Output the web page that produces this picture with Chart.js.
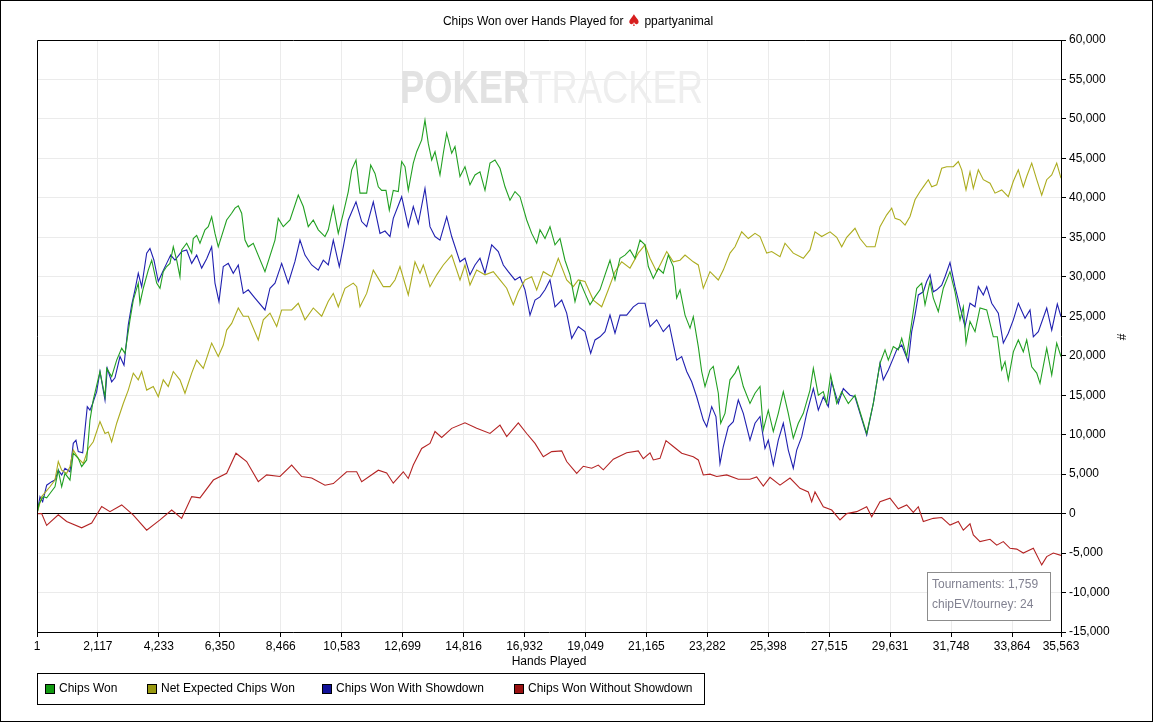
<!DOCTYPE html>
<html>
<head>
<meta charset="utf-8">
<script src="https://cdn.jsdelivr.net/npm/chart.js@4.4.1/dist/chart.umd.min.js"></script>
<style>
  html, body { margin: 0; padding: 0; background: #fff; }
  canvas { display: block; }
</style>
</head>
<body>
<canvas id="grafico" width="1155" height="723"></canvas>
<script>
// tick labels of the axes
const xTicks = [1, 2117, 4233, 6350, 8466, 10583, 12699, 14816, 16932, 19049, 21165, 23282, 25398, 27515, 29631, 31748, 33864, 35563];
const yTicks = [-15000, -10000, -5000, 0, 5000, 10000, 15000, 20000, 25000, 30000, 35000, 40000, 45000, 50000, 55000, 60000];

// Chips Won (green)
const manosGanadas = [1, 80, 219, 337, 451, 625, 740, 858, 972, 1146, 1261, 1434, 1552, 1726, 1841, 1955, 2188, 2362, 2421, 2594, 2768, 2942, 3056, 3230, 3345, 3518, 3577, 3692, 3865, 3984, 4157, 4272, 4386, 4504, 4619, 4734, 4852, 4966, 5025, 5199, 5373, 5428, 5546, 5661, 5835, 5949, 6067, 6182, 6296, 6588, 6762, 6877, 6991, 7109, 7224, 7338, 7512, 7918, 8266, 8380, 8554, 8787, 9075, 9249, 9422, 9596, 9770, 10002, 10117, 10291, 10464, 10638, 10812, 10930, 11079, 11218, 11450, 11590, 11739, 11854, 11971, 12121, 12236, 12374, 12548, 12666, 12781, 12895, 13069, 13187, 13361, 13475, 13590, 13708, 13823, 13996, 14111, 14229, 14403, 14517, 14691, 14864, 15038, 15212, 15385, 15559, 15733, 15906, 16080, 16254, 16427, 16601, 16775, 17007, 17181, 17355, 17469, 17643, 17816, 17990, 18164, 18337, 18511, 18685, 18858, 19032, 19206, 19379, 19553, 19727, 19900, 20074, 20248, 20421, 20595, 20769, 20942, 21116, 21231, 21405, 21578, 21752, 21926, 22099, 22216, 22332, 22506, 22680, 22793, 22967, 23085, 23200, 23373, 23488, 23662, 23745, 23894, 24068, 24242, 24356, 24530, 24762, 24936, 25110, 25224, 25398, 25572, 25745, 25919, 26092, 26266, 26440, 26614, 26846, 26962, 27135, 27308, 27426, 27565, 27774, 27947, 28177, 28409, 28583, 28815, 29045, 29277, 29451, 29566, 29739, 29913, 30031, 30205, 30434, 30552, 30726, 30841, 31014, 31129, 31302, 31476, 31708, 31882, 32056, 32171, 32264, 32403, 32577, 32750, 32983, 33212, 33351, 33504, 33619, 33733, 33907, 34081, 34254, 34372, 34546, 34720, 34834, 35067, 35241, 35414, 35563];
const fichasGanadas = [0, 1300, 2150, 2000, 2550, 3400, 5500, 3400, 5100, 4250, 7650, 7000, 5950, 6800, 11850, 14400, 18000, 14800, 18400, 17350, 19450, 20950, 20300, 24550, 27050, 29200, 26650, 28550, 30850, 32100, 29200, 28550, 30650, 31300, 31700, 33800, 32100, 30000, 33400, 34250, 33000, 34850, 35250, 34250, 35950, 36350, 37600, 35500, 33800, 37200, 38050, 38700, 39000, 38050, 34650, 33800, 34250, 30650, 34650, 37400, 36350, 37200, 40350, 38900, 36350, 37200, 35950, 35100, 35950, 38900, 35500, 38050, 40800, 43550, 44800, 40600, 40600, 44150, 43100, 41400, 40950, 40950, 38450, 40950, 40800, 44600, 43950, 40950, 44400, 45850, 47350, 49850, 46900, 44800, 45850, 42900, 45650, 48200, 45650, 46500, 42700, 43950, 41650, 42900, 43300, 40950, 44400, 44800, 43750, 41400, 39700, 40800, 40150, 37200, 35500, 34250, 35950, 34850, 36350, 34050, 34850, 32100, 30250, 26850, 29400, 27900, 26450, 27450, 28350, 30250, 32100, 29600, 32350, 32750, 33400, 32350, 34650, 34050, 31300, 29800, 31050, 30450, 32750, 31300, 27300, 28350, 25150, 23500, 24950, 21150, 18000, 16100, 18200, 18650, 15250, 11450, 12700, 16950, 17800, 18650, 16100, 13950, 15250, 16100, 10600, 13100, 10400, 12700, 15450, 12700, 9550, 11450, 12700, 15650, 18400, 15000, 15450, 13950, 17550, 13950, 15450, 13950, 15000, 12900, 10150, 13950, 19050, 20750, 19450, 21150, 20750, 22200, 19900, 25600, 28550, 29200, 26450, 29400, 27300, 25600, 28550, 30650, 28100, 24550, 26200, 21600, 24350, 23050, 26050, 25800, 22400, 22400, 18200, 19250, 16950, 20500, 22000, 20500, 22000, 18600, 17800, 16500, 20950, 17550, 21600, 19900];

// Net Expected Chips Won (olive)
const manosEsperadas = [1, 163, 451, 625, 740, 858, 1031, 1146, 1261, 1434, 1608, 1782, 1955, 2188, 2362, 2476, 2594, 2768, 2997, 3171, 3345, 3518, 3636, 3810, 4039, 4213, 4386, 4560, 4734, 4966, 5140, 5373, 5546, 5776, 6067, 6296, 6470, 6588, 6762, 6991, 7165, 7338, 7686, 7860, 8092, 8325, 8498, 8846, 9075, 9308, 9596, 9888, 10117, 10291, 10464, 10697, 10985, 11103, 11218, 11450, 11680, 11854, 12027, 12260, 12433, 12607, 12895, 13128, 13302, 13416, 13649, 13882, 14111, 14403, 14517, 14691, 14864, 15038, 15271, 15559, 15848, 16080, 16313, 16542, 16716, 16948, 17181, 17355, 17584, 17875, 18105, 18396, 18626, 18799, 19032, 19320, 19612, 19841, 20074, 20307, 20595, 20883, 21116, 21290, 21522, 21696, 21870, 22099, 22332, 22506, 22793, 22967, 23141, 23373, 23662, 23835, 24068, 24242, 24474, 24704, 24936, 25110, 25343, 25516, 25804, 25978, 26266, 26614, 26846, 27020, 27253, 27542, 27774, 27947, 28121, 28409, 28583, 28815, 29104, 29277, 29510, 29684, 29799, 29972, 30146, 30319, 30493, 30667, 30781, 30955, 31073, 31247, 31420, 31594, 31823, 31997, 32115, 32264, 32403, 32518, 32692, 32865, 33098, 33272, 33504, 33733, 33907, 34081, 34254, 34372, 34546, 34720, 34893, 35067, 35241, 35414, 35563];
const fichasEsperadas = [0, 2150, 3400, 4250, 6600, 5500, 5100, 5950, 8050, 7000, 6350, 8250, 9100, 11650, 10150, 10350, 9100, 11450, 13950, 15650, 17800, 16950, 18000, 15650, 16100, 14800, 16950, 16100, 18000, 16950, 15250, 17800, 19450, 18400, 21600, 19900, 21350, 23250, 24100, 26050, 25000, 25000, 22000, 24550, 25400, 23700, 25800, 25800, 26650, 24550, 26050, 25000, 26900, 27900, 26200, 28550, 29200, 28750, 26200, 27900, 30850, 29800, 28750, 28750, 29600, 31300, 27700, 31900, 30450, 31500, 28750, 30250, 31500, 32750, 31500, 29600, 31500, 28950, 30850, 30250, 30650, 29600, 28550, 26450, 28100, 29600, 30000, 28350, 30650, 30000, 32350, 29600, 28750, 29600, 29400, 27050, 26200, 28350, 30650, 31900, 31100, 33000, 34050, 32350, 30650, 31900, 33200, 31900, 32100, 32750, 31900, 31500, 28550, 30650, 29600, 30850, 33000, 33800, 35700, 34850, 35500, 35100, 33000, 33200, 32550, 34250, 33000, 32350, 33400, 35700, 35100, 35700, 35000, 33800, 35000, 36150, 34850, 33800, 33800, 36350, 37850, 38700, 37400, 37200, 36550, 37650, 39750, 40800, 41400, 42300, 41400, 41650, 43750, 43950, 43950, 44600, 43550, 41000, 43300, 41200, 43550, 42300, 41850, 40600, 41000, 40150, 42100, 43550, 41400, 42700, 44400, 42300, 40350, 42300, 42900, 44400, 42500];

// Chips Won With Showdown (blue)
const manosConShowdown = [1, 104, 198, 337, 511, 625, 740, 858, 972, 1146, 1261, 1354, 1434, 1587, 1747, 1841, 1934, 2073, 2188, 2362, 2441, 2594, 2709, 2883, 3022, 3171, 3289, 3404, 3518, 3636, 3810, 3924, 4063, 4213, 4366, 4504, 4643, 4793, 5025, 5199, 5373, 5546, 5720, 5894, 6067, 6182, 6321, 6470, 6644, 6817, 6991, 7165, 7338, 7571, 7918, 8092, 8266, 8498, 8728, 8960, 9134, 9308, 9540, 9770, 9943, 10117, 10291, 10499, 10638, 10812, 11079, 11277, 11450, 11680, 11912, 12086, 12260, 12374, 12666, 12895, 13069, 13243, 13475, 13649, 13823, 13996, 14229, 14403, 14691, 14864, 15038, 15212, 15385, 15559, 15792, 16021, 16195, 16368, 16601, 16775, 16948, 17122, 17296, 17469, 17643, 17816, 17990, 18223, 18396, 18570, 18799, 19032, 19230, 19379, 19553, 19727, 19900, 20074, 20248, 20480, 20710, 20883, 21116, 21290, 21522, 21751, 21960, 22216, 22390, 22564, 22738, 22911, 23141, 23259, 23432, 23580, 23720, 23835, 24009, 24182, 24356, 24530, 24762, 24936, 25110, 25283, 25398, 25572, 25745, 25919, 26092, 26266, 26384, 26558, 26732, 26962, 27135, 27308, 27482, 27600, 27829, 28003, 28235, 28409, 28583, 28815, 29045, 29277, 29392, 29566, 29739, 29857, 30031, 30260, 30378, 30493, 30608, 30781, 30899, 31014, 31129, 31247, 31420, 31535, 31708, 31882, 32056, 32229, 32403, 32577, 32692, 32865, 32983, 33157, 33386, 33560, 33733, 33907, 34081, 34313, 34487, 34602, 34776, 35067, 35241, 35435, 35563];
const fichasConShowdown = [0, 2150, 1500, 3600, 4050, 4250, 5500, 4900, 5750, 5300, 8900, 9300, 7850, 7700, 13550, 13100, 13950, 15450, 18000, 14400, 18400, 16700, 17200, 19900, 18800, 23900, 26450, 28350, 30450, 28750, 33000, 33600, 32100, 29400, 30650, 31700, 32750, 32100, 33200, 33400, 31700, 32750, 31100, 32300, 33800, 29200, 26850, 31300, 31700, 30450, 31500, 27900, 28350, 27300, 25800, 28550, 29200, 31700, 29200, 31950, 34650, 32750, 31500, 30850, 32100, 31500, 34650, 31300, 33800, 37200, 39500, 37000, 36350, 39500, 35500, 35800, 35100, 37400, 40150, 36350, 38900, 36750, 41200, 36350, 35100, 34650, 37600, 35100, 31900, 32350, 30250, 31500, 32350, 30450, 34050, 33200, 31500, 30650, 29600, 30000, 28350, 25150, 27050, 27450, 28350, 29600, 26200, 27050, 25400, 22200, 23700, 23050, 20300, 22000, 22400, 23050, 25150, 22850, 25150, 25150, 26200, 26650, 26650, 23700, 24550, 23050, 23900, 19450, 19900, 18000, 16700, 14800, 11850, 11000, 13550, 12300, 6350, 8500, 11000, 11650, 14400, 12700, 9300, 11450, 12300, 8250, 9300, 6150, 9300, 11450, 8050, 5750, 8050, 9750, 12700, 15850, 13100, 14800, 13550, 16700, 13950, 15850, 15000, 14800, 12700, 9950, 13950, 19050, 16950, 18200, 19700, 20750, 21350, 19250, 23050, 25150, 27700, 28100, 29400, 30250, 28100, 28350, 28950, 30000, 31800, 28750, 26200, 23700, 26650, 26200, 28750, 27700, 28750, 26650, 25400, 21600, 22850, 24550, 26650, 24750, 25800, 22400, 23050, 26050, 23250, 26550, 24950];

// Chips Won Without Showdown (red)
const manosSinShowdown = [1, 163, 336, 741, 1030, 1552, 1900, 2247, 2535, 2942, 3347, 3810, 4272, 4678, 5025, 5373, 5662, 6125, 6588, 6911, 7282, 7686, 7977, 8439, 8845, 9193, 9540, 10002, 10292, 10755, 11103, 11277, 11855, 12145, 12374, 12722, 12895, 13069, 13360, 13649, 13823, 14055, 14403, 14864, 15271, 15733, 16080, 16313, 16716, 17007, 17296, 17584, 17875, 18223, 18396, 18744, 18973, 19265, 19494, 19668, 20015, 20480, 20883, 21057, 21290, 21404, 21637, 21845, 22099, 22390, 22793, 22967, 23141, 23373, 23606, 23953, 24356, 24762, 24995, 25224, 25457, 25804, 26152, 26499, 26787, 26905, 27020, 27308, 27600, 27888, 28121, 28468, 28815, 28989, 29277, 29625, 29913, 30205, 30434, 30608, 30781, 31129, 31420, 31708, 31997, 32170, 32403, 32518, 32750, 33098, 33330, 33560, 33793, 34025, 34254, 34602, 34893, 35067, 35296, 35563];
const fichasSinShowdown = [0, 0, -1500, -150, -1000, -1800, -1200, 900, 250, 1100, -200, -2100, -800, 450, -600, 2150, 2000, 4250, 5100, 7650, 6600, 4050, 4900, 4700, 6150, 4700, 4500, 3600, 3800, 5300, 5300, 4050, 5500, 5150, 3850, 5300, 4450, 6150, 8250, 8900, 10400, 9650, 10800, 11500, 10800, 10150, 11200, 9750, 11500, 10150, 8900, 7200, 7850, 7950, 6600, 5100, 6000, 5750, 6150, 5550, 6900, 7700, 7950, 6950, 7700, 6800, 7000, 9250, 8500, 7650, 7200, 6800, 4900, 5000, 4700, 4900, 4350, 4350, 4650, 3500, 4600, 3600, 4500, 3200, 2750, 1500, 2750, 870, 450, -800, 0, 250, 870, -400, 1500, 1950, 600, 1100, 150, 870, -1000, -600, -500, -1450, -1000, -2100, -1300, -2700, -3550, -3250, -4000, -3550, -4400, -4500, -5000, -4400, -6500, -5450, -5000, -5300];

const fuente = "'Liberation Sans', Arial, sans-serif";

function separar(n) {
    return Math.round(n).toLocaleString('en-US');
}

function puntos(xs, ys) {
    return xs.map((x, i) => ({ x: x, y: ys[i] }));
}

const series = [
    { label: 'Chips Won', data: puntos(manosGanadas, fichasGanadas), borderColor: 'rgb(34, 160, 34)', caja: 'rgb(17, 153, 17)' },
    { label: 'Net Expected Chips Won', data: puntos(manosEsperadas, fichasEsperadas), borderColor: 'rgb(172, 172, 30)', caja: 'rgb(153, 153, 17)' },
    { label: 'Chips Won With Showdown', data: puntos(manosConShowdown, fichasConShowdown), borderColor: 'rgb(32, 32, 176)', caja: 'rgb(17, 17, 153)' },
    { label: 'Chips Won Without Showdown', data: puntos(manosSinShowdown, fichasSinShowdown), borderColor: 'rgb(180, 36, 36)', caja: 'rgb(153, 17, 17)' }
];

// title, frame, watermark, legend and note box
const marco = {
    id: 'marco',
    beforeDraw(chart) {
        const ctx = chart.ctx;
        ctx.save();
        ctx.fillStyle = '#fff';
        ctx.fillRect(0, 0, chart.width, chart.height);
        ctx.restore();
    },
    beforeDatasetsDraw(chart) {
        const ctx = chart.ctx;
        ctx.save();
        ctx.textBaseline = 'middle';
        ctx.font = "bold 46px " + fuente;
        let w1 = ctx.measureText('POKER').width;
        ctx.font = "46px " + fuente;
        let w2 = ctx.measureText('TRACKER').width;
        ctx.translate(400, 90);
        ctx.scale(303 / (w1 + w2), 1);
        ctx.font = "bold 46px " + fuente;
        ctx.fillStyle = '#e2e2e2';
        ctx.fillText('POKER', 0, 0);
        ctx.font = "46px " + fuente;
        ctx.fillStyle = '#eeeeee';
        ctx.fillText('TRACKER', w1, 0);
        ctx.restore();
    },
    afterDraw(chart) {
        const ctx = chart.ctx;
        const a = chart.chartArea;
        ctx.save();
        ctx.strokeStyle = '#000';
        ctx.lineWidth = 1;
        ctx.beginPath();
        ctx.moveTo(a.left + 0.5, a.bottom);
        ctx.lineTo(a.left + 0.5, a.top + 0.5);
        ctx.lineTo(a.right, a.top + 0.5);
        ctx.stroke();
        ctx.strokeRect(0.5, 0.5, 1152, 721);

        // title
        ctx.textBaseline = 'middle';
        const t1 = 'Chips Won over Hands Played for ';
        const t2 = '\u2660';
        const t3 = ' ppartyanimal';
        ctx.font = "12px " + fuente;
        const a1 = ctx.measureText(t1).width;
        const a3 = ctx.measureText(t3).width;
        ctx.font = "16px 'DejaVu Sans', sans-serif";
        const a2 = ctx.measureText(t2).width;
        let x = 578 - (a1 + a2 + a3) / 2;
        ctx.font = "12px " + fuente;
        ctx.fillStyle = '#000';
        ctx.fillText(t1, x, 22);
        x += a1;
        ctx.font = "16px 'DejaVu Sans', sans-serif";
        ctx.fillStyle = 'rgb(215, 30, 30)';
        ctx.fillText(t2, x, 22);
        x += a2;
        ctx.font = "12px " + fuente;
        ctx.fillStyle = '#000';
        ctx.fillText(t3, x, 22);

        // axis titles
        ctx.textAlign = 'center';
        ctx.fillText('Hands Played', (a.left + a.right) / 2, 662);
        ctx.save();
        ctx.translate(1123, 337);
        ctx.rotate(-Math.PI / 2);
        ctx.fillText('#', 0, 0);
        ctx.restore();

        // legend
        ctx.textAlign = 'left';
        ctx.strokeRect(37.5, 673.5, 667, 31);
        const posiciones = [45, 147, 322, 514];
        series.forEach((s, i) => {
            const px = posiciones[i];
            ctx.fillStyle = s.caja;
            ctx.fillRect(px, 684, 9, 9);
            ctx.strokeStyle = '#000';
            ctx.strokeRect(px + 0.5, 684.5, 9, 9);
            ctx.fillStyle = '#000';
            ctx.fillText(s.label, px + 14, 689);
        });

        // note box
        ctx.fillStyle = '#fff';
        ctx.fillRect(927, 572, 124, 49);
        ctx.strokeStyle = '#8c8c8c';
        ctx.strokeRect(927.5, 572.5, 123, 48);
        ctx.fillStyle = 'rgb(130, 130, 145)';
        ctx.fillText('Tournaments: 1,759', 932, 585);
        ctx.fillText('chipEV/tourney: 24', 932, 605);
        ctx.restore();
    }
};

const lienzo = document.getElementById('grafico');

new Chart(lienzo, {
    type: 'line',
    data: {
        datasets: series.map(s => ({
            label: s.label,
            data: s.data,
            borderColor: s.borderColor,
            backgroundColor: s.borderColor,
            borderWidth: 1.1,
            pointRadius: 0,
            tension: 0,
            fill: false
        }))
    },
    options: {
        responsive: false,
        animation: false,
        devicePixelRatio: 1,
        layout: { padding: { left: 37, top: 40, right: 0, bottom: 0 } },
        plugins: {
            legend: { display: false },
            title: { display: false },
            tooltip: { enabled: false }
        },
        scales: {
            x: {
                type: 'linear',
                min: 1,
                max: 35563,
                afterBuildTicks: s => { s.ticks = xTicks.map(v => ({ value: v })); },
                afterFit: s => { s.height = 91; },
                grid: { color: '#ebebeb', tickColor: '#000', tickLength: 5 },
                border: { color: '#000' },
                ticks: {
                    autoSkip: false,
                    maxRotation: 0,
                    padding: 2,
                    color: '#000',
                    font: { family: fuente, size: 12 },
                    callback: v => separar(v)
                }
            },
            y: {
                position: 'right',
                min: -15000,
                max: 60000,
                afterBuildTicks: s => { s.ticks = yTicks.map(v => ({ value: v })); },
                afterFit: s => { s.width = 94; },
                grid: {
                    color: c => (c.tick && c.tick.value === 0) ? '#000' : '#ebebeb',
                    tickColor: '#000',
                    tickLength: 5
                },
                border: { color: '#000' },
                ticks: {
                    padding: 3,
                    color: '#000',
                    font: { family: fuente, size: 12 },
                    callback: v => separar(v)
                }
            }
        }
    },
    plugins: [marco]
});
</script>
</body>
</html>
